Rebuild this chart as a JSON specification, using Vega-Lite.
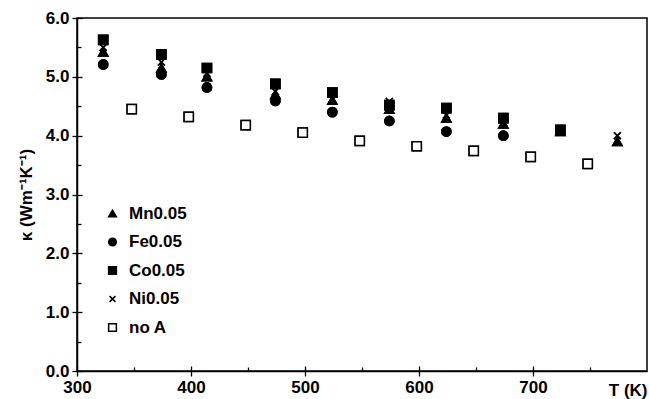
{
  "$schema": "https://vega.github.io/schema/vega-lite/v6.json",
  "width": 570,
  "height": 353,
  "autosize": {"type": "none"},
  "padding": {"left": 77, "top": 18, "right": 2, "bottom": 28},
  "background": "white",
  "config": {
    "view": {"stroke": "black", "strokeWidth": 1.5},
    "font": "Liberation Sans",
    "axis": {
      "domainColor": "black", "domainWidth": 1.5,
      "tickColor": "black", "tickWidth": 1.3,
      "labelFont": "Liberation Sans", "labelFontWeight": "bold", "labelFontSize": 17, "labelColor": "black",
      "titleFont": "Liberation Sans", "titleFontWeight": "bold", "titleFontSize": 17, "titleColor": "black",
      "grid": false
    },
    "legend": {
      "labelFont": "Liberation Sans", "labelFontWeight": "bold", "labelFontSize": 17, "labelColor": "black"
    }
  },
  "data": {
    "values": [
      {"series": "Ni0.05", "T": 323, "k": 5.5},
      {"series": "Ni0.05", "T": 374, "k": 5.25},
      {"series": "Ni0.05", "T": 414, "k": 5.06},
      {"series": "Ni0.05", "T": 474, "k": 4.75},
      {"series": "Ni0.05", "T": 524, "k": 4.62},
      {"series": "Ni0.05", "T": 574, "k": 4.58},
      {"series": "Ni0.05", "T": 624, "k": 4.35},
      {"series": "Ni0.05", "T": 674, "k": 4.22},
      {"series": "Ni0.05", "T": 724, "k": 4.08},
      {"series": "Ni0.05", "T": 774, "k": 4.0},
      {"series": "Fe0.05", "T": 323, "k": 5.21},
      {"series": "Fe0.05", "T": 374, "k": 5.04},
      {"series": "Fe0.05", "T": 414, "k": 4.82},
      {"series": "Fe0.05", "T": 474, "k": 4.59},
      {"series": "Fe0.05", "T": 524, "k": 4.4},
      {"series": "Fe0.05", "T": 574, "k": 4.25},
      {"series": "Fe0.05", "T": 624, "k": 4.07},
      {"series": "Fe0.05", "T": 674, "k": 4.0},
      {"series": "Mn0.05", "T": 323, "k": 5.42},
      {"series": "Mn0.05", "T": 374, "k": 5.15},
      {"series": "Mn0.05", "T": 414, "k": 5.0},
      {"series": "Mn0.05", "T": 474, "k": 4.7},
      {"series": "Mn0.05", "T": 524, "k": 4.6},
      {"series": "Mn0.05", "T": 574, "k": 4.45},
      {"series": "Mn0.05", "T": 624, "k": 4.3},
      {"series": "Mn0.05", "T": 674, "k": 4.2},
      {"series": "Mn0.05", "T": 724, "k": 4.07},
      {"series": "Mn0.05", "T": 774, "k": 3.9},
      {"series": "Co0.05", "T": 323, "k": 5.63},
      {"series": "Co0.05", "T": 374, "k": 5.38},
      {"series": "Co0.05", "T": 414, "k": 5.15},
      {"series": "Co0.05", "T": 474, "k": 4.88},
      {"series": "Co0.05", "T": 524, "k": 4.73},
      {"series": "Co0.05", "T": 574, "k": 4.52},
      {"series": "Co0.05", "T": 624, "k": 4.47},
      {"series": "Co0.05", "T": 674, "k": 4.3},
      {"series": "Co0.05", "T": 724, "k": 4.1},
      {"series": "no A", "T": 348, "k": 4.45},
      {"series": "no A", "T": 398, "k": 4.32},
      {"series": "no A", "T": 448, "k": 4.18},
      {"series": "no A", "T": 498, "k": 4.05},
      {"series": "no A", "T": 548, "k": 3.91},
      {"series": "no A", "T": 598, "k": 3.82},
      {"series": "no A", "T": 648, "k": 3.74},
      {"series": "no A", "T": 698, "k": 3.64},
      {"series": "no A", "T": 748, "k": 3.52}
    ]
  },
  "encoding": {
    "shape": {
      "field": "series", "type": "nominal", "title": null,
      "scale": {
        "domain": ["Mn0.05", "Fe0.05", "Co0.05", "Ni0.05", "no A"],
        "range": ["triangle-up", "circle", "square", "M-0.75,-0.75L0.75,0.75M-0.75,0.75L0.75,-0.75", "square"]
      },
      "legend": {
        "orient": "none", "legendX": 27, "legendY": 187,
        "rowPadding": 10.5, "symbolSize": 60, "symbolStrokeWidth": 1.5,
        "labelOffset": 8, "padding": 0
      }
    },
    "fill": {
      "field": "series", "type": "nominal", "title": null,
      "scale": {
        "domain": ["Mn0.05", "Fe0.05", "Co0.05", "Ni0.05", "no A"],
        "range": ["black", "black", "black", "transparent", "white"]
      }
    },
    "stroke": {
      "field": "series", "type": "nominal", "title": null,
      "scale": {
        "domain": ["Mn0.05", "Fe0.05", "Co0.05", "Ni0.05", "no A"],
        "range": ["black", "black", "black", "black", "black"]
      }
    }
  },
  "layer": [
    {
      "mark": {"type": "point", "filled": false, "strokeWidth": 1.5, "opacity": 1, "size": 85},
      "encoding": {
        "x": {
          "field": "T", "type": "quantitative",
          "scale": {"domain": [300, 800], "nice": false, "zero": false},
          "axis": {
            "orient": "bottom",
            "values": [300, 400, 500, 600, 700],
            "labelFlush": false,
            "labelPadding": 3,
            "tickSize": 5,
            "title": "T (K)",
            "titleAnchor": "end",
            "titleAlign": "right",
            "titleBaseline": "alphabetic",
            "titleX": 570,
            "titleY": 24
          }
        },
        "y": {
          "field": "k", "type": "quantitative",
          "scale": {"domain": [0, 6], "nice": false},
          "axis": {
            "orient": "left",
            "values": [0, 1, 2, 3, 4, 5, 6],
            "format": ".1f",
            "labelFlush": false,
            "labelPadding": 3,
            "tickSize": 5,
            "title": "κ (Wm⁻¹K⁻¹)",
            "titlePadding": 10
          }
        }
      }
    },
    {
      "mark": {"type": "point", "filled": false, "strokeWidth": 1.5, "opacity": 1, "size": 85},
      "encoding": {
        "x": {
          "field": "T", "type": "quantitative",
          "axis": {
            "orient": "bottom",
            "values": [300, 350, 400, 450, 500, 550, 600, 650, 700, 750],
            "labels": false, "domain": false, "title": null,
            "tickSize": {"condition": {"test": "datum.value % 100 === 0", "value": -5}, "value": -4}
          }
        },
        "y": {
          "field": "k", "type": "quantitative",
          "axis": {
            "orient": "left",
            "values": [0, 0.5, 1, 1.5, 2, 2.5, 3, 3.5, 4, 4.5, 5, 5.5, 6],
            "labels": false, "domain": false, "title": null,
            "tickSize": {"condition": {"test": "datum.value % 1 === 0", "value": -5}, "value": -4}
          }
        }
      }
    }
  ],
  "resolve": {"axis": {"x": "independent", "y": "independent"}}
}
